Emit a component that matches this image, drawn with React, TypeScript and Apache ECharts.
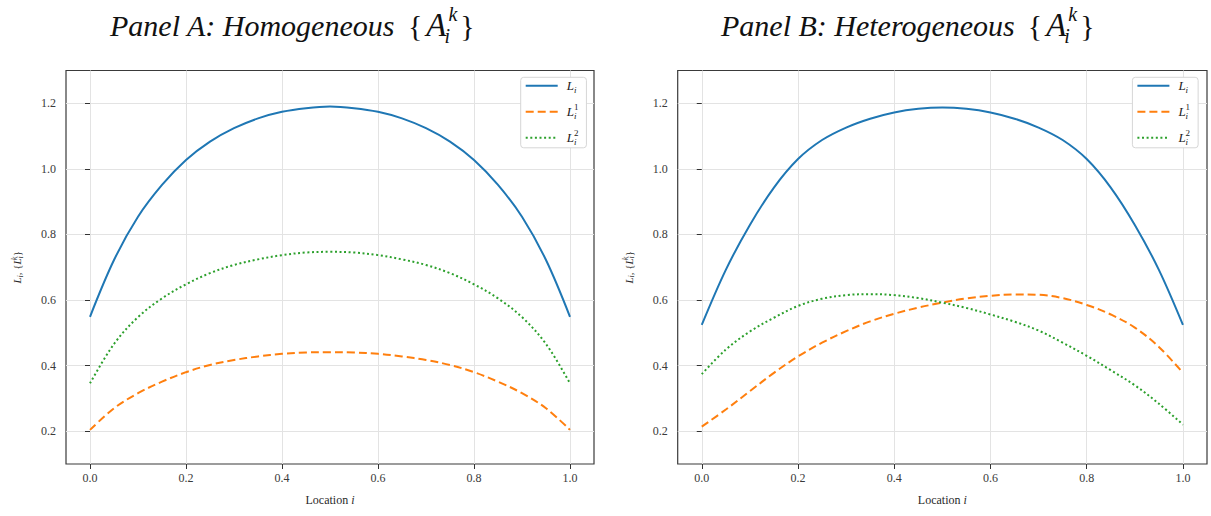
import React, { useEffect, useRef } from "react";
import * as echarts from "echarts";

// ---- data ----
const locations = [0, 0.05, 0.1, 0.15, 0.2, 0.25, 0.3, 0.35, 0.4, 0.45, 0.5, 0.55, 0.6, 0.65, 0.7, 0.75, 0.8, 0.85, 0.9, 0.95, 1.0];

const panelA_L = [0.549, 0.722, 0.854, 0.951, 1.027, 1.083, 1.124, 1.154, 1.174, 1.185, 1.19, 1.185, 1.174, 1.154, 1.124, 1.083, 1.027, 0.951, 0.854, 0.722, 0.549];
const panelA_L1 = [0.204, 0.27, 0.316, 0.351, 0.38, 0.402, 0.417, 0.428, 0.436, 0.44, 0.441, 0.44, 0.436, 0.428, 0.417, 0.402, 0.38, 0.351, 0.316, 0.27, 0.204];
const panelA_L2 = [0.346, 0.466, 0.548, 0.605, 0.648, 0.682, 0.707, 0.724, 0.737, 0.745, 0.747, 0.745, 0.737, 0.724, 0.707, 0.682, 0.648, 0.605, 0.548, 0.466, 0.346];

const panelB_L = [0.524, 0.692, 0.829, 0.943, 1.03, 1.088, 1.126, 1.153, 1.172, 1.183, 1.187, 1.183, 1.172, 1.153, 1.126, 1.088, 1.03, 0.943, 0.829, 0.692, 0.524];
const panelB_L1 = [0.214, 0.266, 0.322, 0.378, 0.428, 0.47, 0.505, 0.535, 0.558, 0.577, 0.592, 0.605, 0.613, 0.617, 0.616, 0.606, 0.585, 0.556, 0.516, 0.457, 0.378];
const panelB_L2 = [0.374, 0.449, 0.504, 0.546, 0.582, 0.604, 0.615, 0.618, 0.615, 0.606, 0.592, 0.576, 0.556, 0.534, 0.507, 0.47, 0.43, 0.386, 0.34, 0.284, 0.22];

const xTicks = [0, 0.2, 0.4, 0.6, 0.8, 1.0];
const yTicks = [0.2, 0.4, 0.6, 0.8, 1.0, 1.2];

const seriesNames = ["Li", "L1i", "L2i"];
const panelTitles = ["Panel A: Homogeneous", "Panel B: Heterogeneous"];

// ---- styling ----
const SERIF = '"Liberation Serif", "Times New Roman", serif';
const COLORS = ["#1f77b4", "#ff7f0e", "#2ca02c"];
const DASHES: any[] = ["solid", [8, 4], [2, 2.6]];

function measure(text: string, font: string): number {
  const c = document.createElement("canvas").getContext("2d");
  if (!c) return text.length * 14;
  c.font = font;
  return c.measureText(text).width;
}

export default function App() {
  const ref = useRef<HTMLDivElement>(null);

  useEffect(() => {
    if (!ref.current) return;
    const chart = echarts.init(ref.current, null, { renderer: "svg" });

    const grids = [
      { left: 66, top: 70.5, width: 528, height: 393.5 },
      { left: 677.7, top: 70.5, width: 529.3, height: 393.5 },
    ];

    const panels = [
      [panelA_L, panelA_L1, panelA_L2],
      [panelB_L, panelB_L1, panelB_L2],
    ];

    const axisText = { fontFamily: SERIF, fontSize: 12, color: "#3a3a3a" };

    const xAxes = grids.map((_, i) => ({
      type: "value",
      gridIndex: i,
      min: -0.05,
      max: 1.05,
      axisLine: { show: false },
      axisTick: { show: true, length: 5, customValues: xTicks, lineStyle: { color: "#333", width: 1 } },
      axisLabel: { customValues: xTicks, margin: 8, formatter: (v: number) => v.toFixed(1), ...axisText },
      splitLine: { show: true, lineStyle: { color: "#e3e3e3", width: 1 } },
      name: "Location {it|i}",
      nameLocation: "middle",
      nameGap: 30,
      nameTextStyle: {
        fontFamily: SERIF,
        fontSize: 12,
        color: "#2a2a2a",
        rich: { it: { fontFamily: SERIF, fontSize: 12, fontStyle: "italic", color: "#2a2a2a" } },
      },
    }));

    const nameRich = {
      it: { fontFamily: SERIF, fontSize: 11, fontStyle: "italic", color: "#2a2a2a" },
      br: { fontFamily: SERIF, fontSize: 11, color: "#2a2a2a" },
      sb: { fontFamily: SERIF, fontSize: 8, fontStyle: "italic", color: "#2a2a2a", verticalAlign: "bottom", lineHeight: 14 },
      sp: { fontFamily: SERIF, fontSize: 8, fontStyle: "italic", color: "#2a2a2a", verticalAlign: "top", lineHeight: 14, width: 0 },
    };

    const yAxes = grids.map((_, i) => ({
      type: "value",
      gridIndex: i,
      min: 0.1,
      max: 1.3,
      axisLine: { show: false },
      axisTick: { show: true, length: 5, customValues: yTicks, lineStyle: { color: "#333", width: 1 } },
      axisLabel: { customValues: yTicks, margin: 10, formatter: (v: number) => v.toFixed(1), ...axisText },
      splitLine: { show: true, lineStyle: { color: "#e3e3e3", width: 1 } },
      name: "{it|L}{sb|i}{br|, }{br|\u007B}{it|L}{sp|k}{sb|i}{br|\u007D}",
      nameLocation: "middle",
      nameRotate: 90,
      nameGap: 42,
      nameTextStyle: { fontFamily: SERIF, fontSize: 11, color: "#2a2a2a", rich: nameRich },
    }));

    const series: any[] = [];
    panels.forEach((arrs, p) => {
      arrs.forEach((arr, k) => {
        series.push({
          type: "line",
          name: seriesNames[k],
          xAxisIndex: p,
          yAxisIndex: p,
          data: locations.map((x, i) => [x, arr[i]]),
          symbol: "none",
          smooth: 0.35,
          lineStyle: { color: COLORS[k], width: 2, type: DASHES[k], cap: "butt" },
          itemStyle: { color: COLORS[k] },
        });
      });
    });

    const legendRich = {
      L: { fontFamily: SERIF, fontSize: 13, fontStyle: "italic", color: "#222", padding: [0, 0, 0, 4], lineHeight: 18 },
      sb: { fontFamily: SERIF, fontSize: 9, fontStyle: "italic", color: "#222", verticalAlign: "bottom", lineHeight: 18 },
      sp: { fontFamily: SERIF, fontSize: 9, color: "#222", verticalAlign: "top", lineHeight: 18, width: 0 },
    };
    const legendFmt = (name: string) => {
      if (name === "Li") return "{L|L}{sb|i}";
      if (name === "L1i") return "{L|L}{sp|1}{sb|i}";
      return "{L|L}{sp|2}{sb|i}";
    };

    const legends = [520.7, 1132.4].map((left) => ({
      data: seriesNames,
      orient: "vertical",
      left,
      top: 77.3,
      width: 67,
      itemWidth: 32,
      itemHeight: 14,
      itemGap: 8,
      padding: [2, 8, 1, 4],
      backgroundColor: "#fff",
      borderColor: "#d6d6d6",
      borderWidth: 1,
      borderRadius: 3,
      selectedMode: false,
      itemStyle: { opacity: 0, borderWidth: 0 },
      formatter: legendFmt,
      textStyle: { rich: legendRich },
    }));

    // titles built from pieces so that the sub/superscripts stack
    const mainFont = `italic 30px ${SERIF}`;
    const graphic: any[] = [];
    const titleX = [110, 721];
    const txt = (text: string, x: number, y: number, size: number, italic: boolean) => ({
      type: "text",
      x,
      y,
      style: {
        text,
        fontFamily: SERIF,
        fontStyle: italic ? "italic" : "normal",
        fontSize: size,
        fill: "#111",
        verticalAlign: "middle",
        align: "left",
      },
    });
    panelTitles.forEach((t, p) => {
      const x0 = titleX[p];
      const E = x0 + measure(t, mainFont);
      const braceX = E + 13;
      const ax = braceX + measure("{", `30px ${SERIF}`) + 4;
      const wA = measure("A", `italic 33px ${SERIF}`);
      const kx = ax + wA + 2;
      const wk = measure("k", `italic 20px ${SERIF}`);
      graphic.push(txt(t, x0, 25, 30, true));
      graphic.push(txt("{", braceX, 25, 30, false));
      graphic.push(txt("A", ax, 25, 33, true));
      graphic.push(txt("k", kx, 14, 20, true));
      graphic.push(txt("i", kx - 4, 36, 20, true));
      graphic.push(txt("}", kx + wk + 3, 25, 30, false));
    });

    chart.setOption({
      animation: false,
      backgroundColor: "#fff",
      grid: grids.map((g) => ({ ...g, show: true, borderColor: "#3a3a3a", borderWidth: 1.2, backgroundColor: "transparent" })),
      xAxis: xAxes,
      yAxis: yAxes,
      legend: legends,
      series,
      graphic,
    });

    return () => chart.dispose();
  }, []);

  return <div ref={ref} style={{ position: "fixed", left: 0, top: 0, width: 1211, height: 516 }} />;
}
